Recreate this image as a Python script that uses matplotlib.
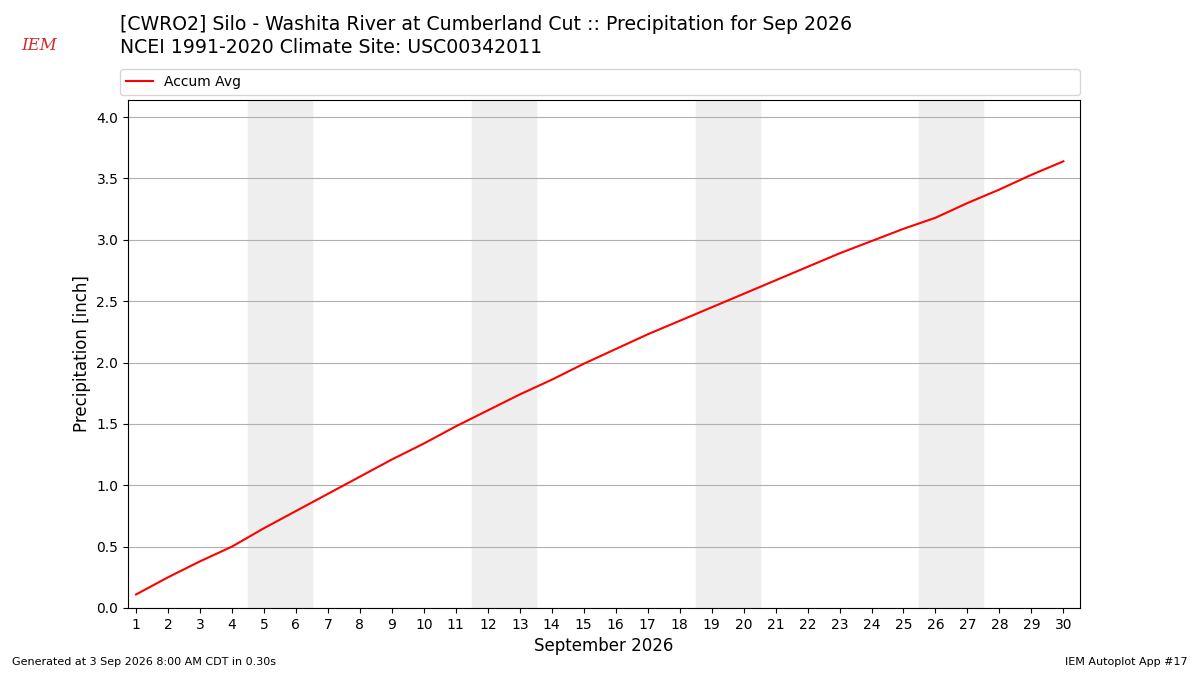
import matplotlib
matplotlib.use('Agg')
import matplotlib.pyplot as plt

days = list(range(1, 31))
accum_avg = [0.11, 0.25, 0.38, 0.50, 0.65, 0.79, 0.93, 1.07, 1.21, 1.34,
             1.48, 1.61, 1.74, 1.86, 1.99, 2.11, 2.23, 2.34, 2.45, 2.56,
             2.67, 2.78, 2.89, 2.99, 3.09, 3.18, 3.30, 3.41, 3.53, 3.64]
weekends = [(5, 6), (12, 13), (19, 20), (26, 27)]

fig = plt.figure(figsize=(12, 6.75), dpi=100)
ax = fig.add_axes([0.1067, 0.0993, 0.7933, 0.7526])

for start, end in weekends:
    ax.axvspan(start - 0.5, end + 0.5, color='#eeeeee', zorder=0)

ax.plot(days, accum_avg, color='r', lw=1.5, label='Accum Avg', zorder=3)

ax.set_xlim(0.75, 30.52)
ax.set_ylim(0, 4.14)
ax.set_xticks(days)
ax.set_yticks([0, 0.5, 1.0, 1.5, 2.0, 2.5, 3.0, 3.5, 4.0])
ax.yaxis.grid(True, color='#b0b0b0', lw=0.8)
ax.set_axisbelow(True)
ax.set_xlabel('September 2026', fontsize=12)
ax.set_ylabel('Precipitation [inch]', fontsize=12)

fig.legend(loc='lower left', bbox_to_anchor=(0.1, 0.86, 0.8, 0.04),
           mode='expand', ncol=1, fontsize=10, borderaxespad=0)

fig.text(0.1, 0.9644, '[CWRO2] Silo - Washita River at Cumberland Cut :: Precipitation for Sep 2026',
         fontsize=13.6, va='center')
fig.text(0.1, 0.930, 'NCEI 1991-2020 Climate Site: USC00342011',
         fontsize=13.6, va='center')

fig.text(0.018, 0.933, 'IEM', fontsize=12, color='#d42a2a', family='serif',
         style='italic', va='center')

fig.text(0.01, 0.015, 'Generated at 3 Sep 2026 8:00 AM CDT in 0.30s', fontsize=8)
fig.text(0.99, 0.015, 'IEM Autoplot App #17', fontsize=8, ha='right')

fig.savefig('out.png', dpi=100)
